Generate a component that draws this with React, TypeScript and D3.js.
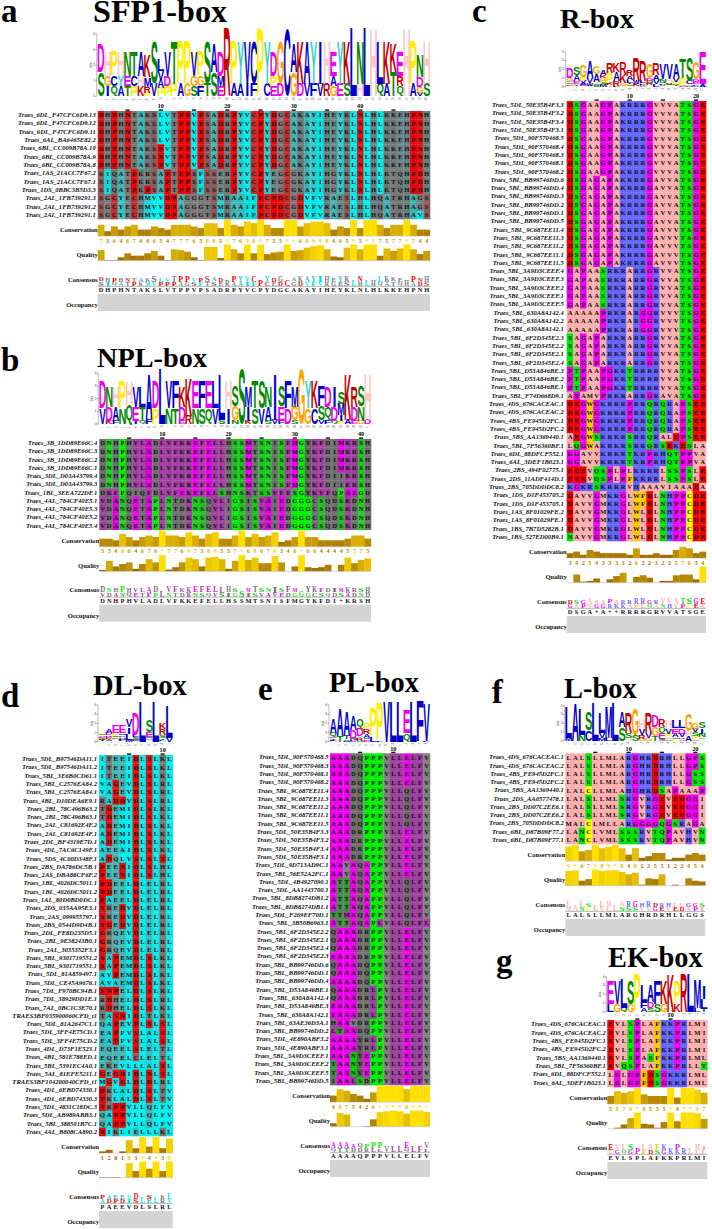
import React from "react";
import * as d3 from "d3";

// ---------- panel a data ----------
const aNames = ["Traes_6DL_F47CFC6D9.13","Traes_6DL_F47CFC6D9.12","Traes_6DL_F47CFC6D9.11","Traes_6AL_BA6465E82.2","Traes_6BL_CC009B78A.10","Traes_6BL_CC009B78A.9","Traes_6BL_CC009B78A.8","Traes_1AS_21ACC7F67.2","Traes_1AS_21ACC7F67.1","Traes_1DS_0BBC3B5D3.3","Traes_2AL_1FB739291.3","Traes_2AL_1FB739291.2","Traes_2AL_1FB739291.1"];
const aSeqs = ["DHPHNTAKSLVTPPVPSADRPYVCPYDGCAKAYIHEYKLNLHLKKEHPNH","DHPHNTAKSLVTPPVPSADRPYVCPYDGCAKAYIHEYKLNLHLKKEHPNH","DHPHNTAKSLVTPPVPSADRPYVCPYDGCAKAYIHEYKLNLHLKKEHPNH","DHPHNTAKSLVTPPVPSADRPYVCPYDGCAKAYIHEYKLNLHLKKEHPNH","DHPHNTAKSPVTPPVPSADRPYVCPYDGCAKAYIHEYKLNLHLKKEHPNH","DHPHNTAKSPVTPPVPSADRPYVCPYDGCAKAYIHEYKLNLHLKKEHPNH","DHPHNTAKSPVTPPVPSADRPYVCPYDGCAKAYIHEYKLNLHLKKEHPNH","SIQATPKRSAPTPPSFSSERPYVCPYEGCGKAYIHGYKLNLHLKTQHPDH","SIQATPKRSAPTPPSFSSERPYVCPYEGCGKAYIHGYKLNLHLKTQHPDH","SIQATPKPSAPTPPSFSSERPYVCPYEGCGKAYIHGYKLNLHLKTQHPDH","SGCYECHMVVDPAGGGTSMRAAIFPCPDCGDVFVRAESLHLHQATRHAGS","SGCYECHMVVDPAGGGTSMRAAIFPCPDCGDVFVRAESLHLHQATRHAGS","SGCYECHMVVDPAGGGTSMRAAIFPCPDCGDVFVRAESLHLHQATRHAVS"];
const aCons = "7364674465477765885*7698*755*+68998465*5**7577*744";
const aQual = [6.5,0.3,0.3,2,4.5,3,3,4.5,6,3,0.3,7,6.5,5.5,2,0.3,8.5,8.5,1.5,10,7,4.5,10,4.5,10,4,5,5.5,10,6,6.5,8,9,9.5,7,2.5,2,8,10,7,10,10,3,7.5,6,7.5,10,7,4,6];
const aText = "DHPHNTAKSLVTPPVPSADRPYVCPYDGCAKAYIHEYKLNLHLKKEHPNH";

// ---------- panel b data ----------
const bNames = ["Traes_3B_1DD89E66C.4","Traes_3B_1DD89E66C.3","Traes_3B_1DD89E66C.2","Traes_3B_1DD89E66C.1","Traes_3DL_D03A43799.4","Traes_3DL_D03A43799.3","Traes_1BL_3EEA722DF.1","Traes_4AL_784CF40E5.1","Traes_4AL_784CF40E5.3","Traes_4AL_784CF40E5.2","Traes_4AL_784CF40E5.4"];
const bSeqs = ["DNHPHVLADLVFKKEFELLHSSMTSNISFMGYKFDIMKRSH","DNHPHVLADLVFKKEFELLHSSMTSNISFMGYKFDIMKRSH","DNHPHVLADLVFKKEFELLHSSMTSNISFMGYKFDIMKRSH","DNHPHVLADLVFKKEFELLHSSMTSNISFMGYKFDIMKRSH","DNHPHVLADLVFKREFELLHSSMTSNISFMGYKFDIIKRSH","DNHPHVLADLVFKREFELLHSSMTSNISFMGYKFDIIKRSH","DKFPQIQFDLVFEKEFELSHNSKTSSVFFSGYKVFQPAEGD","VDANQETAPLNTDKNSQVLIGSISVAIEDGGGCSQDSKDNH","VDANQETAPLNTDKNSQVLIGSISVAIEDGGGCSQDSKDNH","VDANQETAPLNTDKNSQVLIGSISVAIEDGGGCSQDSKDNH","VDANQETAPLNTDKNSQVLIGSISVAIEDGGGCSQDSKDNH"];
const bCons = "554864676*77697589557*68679346*6644445775";
const bQual = [0.8,6.5,3,4.5,5.5,1.5,4.5,7.5,5.5,10,1,2.5,5.5,8.5,7.5,3,8.5,9,7.5,1.5,6.5,10,7,8.5,5,5,9.5,5.5,0,3,10,2.5,2,2.5,4,0,4,8.5,5,7,8];
const bText = "DNHPHVLADLVFKKEFELLHSSMTSNISFMGYKFDI+KRSH";

// ---------- panel c data ----------
const cNames = ["Traes_5DL_50E35B4F3.3","Traes_5DL_50E35B4F3.2","Traes_5DL_50E35B4F3.4","Traes_5DL_50E35B4F3.1","Traes_5DL_90F570468.5","Traes_5DL_90F570468.4","Traes_5DL_90F570468.3","Traes_5DL_90F570468.1","Traes_5DL_90F570468.2","Traes_5BL_BB99746DD.6","Traes_5BL_BB99746DD.4","Traes_5BL_BB99746DD.3","Traes_5BL_BB99746DD.2","Traes_5BL_BB99746DD.1","Traes_5BL_BB99746DD.5","Traes_5BL_9C687EE11.4","Traes_5BL_9C687EE11.3","Traes_5BL_9C687EE11.2","Traes_5BL_9C687EE11.1","Traes_5BL_9C687EE11.5","Traes_5BL_3A9D3CEEF.4","Traes_5BL_3A9D3CEEF.3","Traes_5BL_3A9D3CEEF.2","Traes_5BL_3A9D3CEEF.1","Traes_5BL_3A9D3CEEF.5","Traes_5BL_630A8A142.4","Traes_5BL_630A8A142.2","Traes_5BL_630A8A142.1","Traes_5BL_6F2D345E2.3","Traes_5BL_6F2D345E2.2","Traes_5BL_6F2D345E2.1","Traes_5BL_6F2D345E2.4","Traes_5BL_D53A846BE.3","Traes_5BL_D53A846BE.2","Traes_5BL_D53A846BE.1","Traes_5BL_F74D668D9.1","Traes_4DS_676CACEAC.1","Traes_4DS_676CACEAC.2","Traes_4BS_FE945D2FC.1","Traes_4BS_FE945D2FC.2","Traes_5BS_AA1369440.1","Traes_5BL_7F56360BF.1","Traes_6DL_88DFCF552.1","Traes_6AL_3DEF1B023.1","Traes_2BS_494F02775.1","Traes_2DS_11ADF414D.1","Traes_2BS_705DDDDC8.2","Traes_1DS_D1F453705.2","Traes_1DS_D1F453705.1","Traes_1AS_8F01029FE.2","Traes_1AS_8F01029FE.1","Traes_1BS_7B7D5282B.1","Traes_1BS_527ED00B9.1"];
const cSeqs = ["DSGAAGPAKRRRGVVVATSGE","DSGAAGPAKRRRGVVVATSGE","DSGAAGPAKRRRGVVVATSGE","DSGAAGPAKRRRGVVVATSGE","DSGAAGPAKRRRGVVVATSGE","DSGAAGPAKRRRGVVVATSGE","DSGAAGPAKRRRGVVVATSGE","DSGAAGPAKRRRGVVVATSGE","DSGAAGPAKRRRGVVVATSGE","DSGAGAPAKRRRGAVVATSGE","DSGAGAPAKRRRGAVVATSGE","DSGAGAPAKRRRGAVVATSGE","DSGAGAPAKRRRGAVVATSGE","DSGAGAPAKRRRGAVVATSGE","DSGAGAPAKRRRGAVVATSGE","DSGAGAPAKRRRGAVVVTSGE","DSGAGAPAKRRRGAVVVTSGE","DSGAGAPAKRRRGAVVVTSGE","DSGAGAPAKRRRGAVVVTSGE","DSGAGAPAKRRRGAVVVTSGE","GAPAASRKRARRGRVVATSGE","GAPAASRKRARRGRVVATSGE","GAPAASRKRARRGRVVATSGE","GAPAASRKRARRGRVVATSGE","GAPAASRKRARRGRVVATSGE","AAAAAPRKRARGGRVVVTSGE","AAAAAPRKRARGGRVVVTSGE","AAAAAPRKRARGGRVVVTSGE","SAGAPARKRARRGRVVATSGE","SAGAPARKRARRGRVVATSGE","SAGAPARKRARRGRVVATSGE","SAGAPARKRARRGRVVATSGE","PTPAAPGKRTRRRRVVATSGE","PTPAAPGKRTRRRRVVATSGE","PTPAAPGKRTRRRRVVATSGE","APAMVPRKRARRGRAVATSGE","DEGWGKRRRPRRQRQRAPSEE","DEGWGKRRRPRRQRQRAPSEE","DEGWGKRRRPRRQRQRAPSEE","DEGWGKRRRPRRQRQRAPSEE","AEGWSKRKRSRRQRALDPSEE","LQGWAKRKRSRRQRSEKENLA","GGAVVKRKRTKRPRHQTPPVA","GGAVVKRKRTKRPRHQTPPVA","EEEVQSPLPLKKRRLSSPSLE","EEEVQSPLPFKKRRLSSPSLE","KGKRSKRRRVHAAAVIAAAEA","DAVVGMKRGLWFDLNHPPCDE","DAVVGMKRGLWFDLNHPPCDE","DAVVGMKRGLWLDLNHPPCDE","DAVVGMKRGLWLDLNHPPCDE","DAVVGMKRGLWLDLNHPPCDE","NAVVGMKRGLWLDLNHPPCDE"];
const cCons = "342543333262232257634";
const cQual = [0,5,0.5,1,2.5,0,2,4,6,0,3.5,4.5,3,0,1,1,4.5,5,5,2,10];
const cText = "DSGA+A++RRRRGRVVATSGE";

// ---------- panel d data ----------
const dNames = ["Traes_5DL_B97546DA11.1","Traes_5DL_B97546DA11.2","Traes_5BL_3E6B0CD61.1","Traes_5BL_C2576EA84.2","Traes_5BL_C2576EA84.1","Traes_4BL_D10DEA6E9.1","Traes_2BL_78C496B63.2","Traes_2BL_78C496B63.1","Traes_2AL_C81692E4F.2","Traes_2AL_C81692E4F.1","Traes_2DL_BF4319E7D.1","Traes_4DL_7AC6C149F.1","Traes_5DS_4C00D348F.1","Traes_2BS_DA786DC5B.1","Traes_2AS_DBA88CF6F.2","Traes_1BL_4026DC5011.1","Traes_1BL_4026DC5011.2","Traes_1AL_80D0BD0DC.1","Traes_2DS_035AA95E3.1","Traes_2AS_099955797.1","Traes_2BS_0544D9D4B.1","Traes_2DL_FE8D235D5.1","Traes_2BL_9E38243B0.1","Traes_2AL_3035352F3.1","Traes_5BL_9301719551.2","Traes_5BL_9301719551.1","Traes_5DL_81A859497.1","Traes_5DL_CE45A9676.1","Traes_7DL_F970BC94B.1","Traes_7DL_38929DD1E.1","Traes_7AL_0BC1C3E70.1","TRAES3BF035900060CFD_t1","Traes_5DL_81A2647C1.1","Traes_5DL_3FF4E75CD.1","Traes_5DL_3FF4E75CD.2","Traes_4DL_D73F1E523.1","Traes_4BL_581E788ED.1","Traes_5BL_5391EC4A0.1","Traes_5AL_81EFE5211.1","TRAES3BF104200040CFD_t1","Traes_4DL_6EBD74330.1","Traes_4DL_6EBD74330.3","Traes_5DL_4831C18DC.3","Traes_5DL_AB989ABB3.1","Traes_5BL_388501B7C.1","Traes_4AL_B808CA890.2"];
const dSeqs = ["ITEEIDLSLKL","ITEEIDLSLKL","ITEEIDLSLKL","VAGEVDLSLRL","VAGEVDLSLRL","RADDVDLSLRL","TDEMIDLSLKL","TDEMIDLSLKL","ADEMIDLSLKL","ADEMIDLSLKL","ADEMIDLSLKL","AEEAIDLSLKL","ADQLVSLSLSL","PEENIDLSLHL","PEENIDLSLHL","PDEELDLELRL","PDEELDLELRL","PAEELDLELRL","SREDVDLELRL","SREDVDLELRL","SGEDVDLELRL","GRQEVDLELRL","GRQEVDLELRL","GRQEVDLELRL","SAPEMDLSLKL","SAPEMDLSLKL","AVPEMDLSLKL","AVAEMDLSLKL","SNPELDLSLRL","RDHELDLSLRL","RDHELDLSLKL","TASNIDLTLKL","QAPEVPLSLSL","EAPFVSLALSL","EAPFVSLALSL","EQEELSLELTL","EQEELCLELTL","EKEVLLLALSL","GEGDIDLNLSL","MGVGLDLDLRL","PKLALDLSLTV","PKLALDLSLTV","SRPPVLLQLFV","QAPPVLLQLFV","QAPPVLLQLFV","PIKLIELLLKL"];
const dCons = "12018 3*4*39".replace(" ", "");
const dQual = [0.3,0.3,0.3,0,9,4,10,5.5,10,4,10];
const dText = "PAEEVDLSLRL";

// ---------- panel e data ----------
const eNames = ["Traes_5DL_90F570468.5","Traes_5DL_90F570468.3","Traes_5DL_90F570468.1","Traes_5DL_90F570468.2","Traes_5BL_9C687EE11.4","Traes_5BL_9C687EE11.3","Traes_5BL_9C687EE11.2","Traes_5BL_9C687EE11.1","Traes_5BL_9C687EE11.5","Traes_5DL_50E35B4F3.3","Traes_5DL_50E35B4F3.2","Traes_5DL_50E35B4F3.4","Traes_5DL_50E35B4F3.1","Traes_5DL_9D713AD9C.1","Traes_5BL_56E52A2FC.1","Traes_5DL_4B4927090.1","Traes_5DL_AA1443700.1","Traes_5BL_8DB8274DB1.2","Traes_5BL_8DB8274DB1.1","Traes_5DL_F269EF70D.1","Traes_5BL_3B50B6963.1","Traes_5BL_6F2D345E2.2","Traes_5BL_6F2D345E2.1","Traes_5BL_6F2D345E2.4","Traes_5BL_6F2D345E2.3","Traes_5BL_BB99746DD.6","Traes_5BL_BB99746DD.1","Traes_5BL_BB99746DD.4","Traes_5BL_D53A846BE.1","Traes_5BL_630A8A142.4","Traes_5BL_D53A846BE.3","Traes_5BL_630A8A142.1","Traes_5BL_63AE36D3A.1","Traes_5BL_BB99746DD.2","Traes_5DL_4E890ABF3.2","Traes_5DL_4E890ABF3.1","Traes_5BL_3A9D3CEEF.1","Traes_5BL_3A9D3CEEF.2","Traes_5BL_3A9D3CEEF.5","Traes_5BL_BB99746DD.5"];
const eSeqs = ["AAADQPPPVLLELFV","AAADQPPPVLLELFV","AAADQPPPVLLELFV","AAADQPPPVLLELFV","AAADQPPPVLLQLFV","AAADQPPPVLLQLFV","AAADQPPPVLLQLFV","AAADQPPPVLLQLFV","AAADQPPPVLLQLFV","AAADRPPPVLLELFV","AAADRPPPVLLELFV","AAADRPPPVLLELFV","AAADRPPPVLLELFV","AAVAQAPPVLLELFV","AAVAQAPPVLLELFV","ATTAQAPPVLLQLFV","ATTAQAPPVLLQLFV","ATTAQAPPVLLQLFV","ATTAQAPPVLLQLFV","TTMAQAPPVLLQLFV","ATTAQAPLVLLQLFL","QAAADRPPVLLELFV","QAAADRPPVLLELFV","QAAADRPPVLLELFV","EAAADRPPVLLELFV","QAAADQPPVLLELFV","QAAADQPPVLLELFV","AAAADQPPVLLELFV","QAAADRLPVLLELFV","QAAADRLPVLLELFV","EAAADRLPVLLELFV","EAAADRLPVLLELFV","HAAVDRPPVLLELFV","LTAADQPPVLLELFV","AAAAYRLPVLLELFV","AAAAYRLPVLLELFV","AAANYEPPVLLELFV","TAANYEPPVLLELFV","TAANYEPPVLLELFV","IAALSDPPVLLELFV"];
const eCons = "4875426+***8**+";
const eQual = [2,8.5,7.5,0,0,0.3,4.5,9,9.5,10,9.5,8,10,10,9];
const eText = "AAAAQPPPVLLELFV";

// ---------- panel f data ----------
const fNames = ["Traes_4DS_676CACEAC.1","Traes_4DS_676CACEAC.2","Traes_4BS_FE945D2FC.1","Traes_4BS_FE945D2FC.2","Traes_5BS_AA1369440.1","Traes_2DS_AA0577478.1","Traes_2BS_DD07C2EE6.1","Traes_2BS_DD07C2EE6.2","Traes_2BS_705DDDDC8.2","Traes_6BL_D87B09F77.2","Traes_6BL_D87B09F77.1"];
const fSeqs = ["LALSLLMLARGHRDRHLLGPS","LALSLLMLARGHRDRHLLGPS","LALSLLMLARGHRDRHLLGSS","LALSLLMLARGHRDRHLLGSS","LALCLLMLAHGHRDSAPAAAP","LALSLLMLSRGVRGEVEDGGI","LALSLLMLSRGVRGEVEDGGI","LALSLLMLSRGVRGEVEDGGI","MALCLMLLARGGGGQGSRAGA","LANCLVMLSSSRVTQPAVHVN","LANCLVMLSSSRVTQPAVHVN"];
const fCons = "9*67*89*848235512 2454".replace(" ", "");
const fQual = [9,9.5,3,4,10,9,9.5,9.5,8.5,7,8,0.5,4.5,4,7,0,0.5,0,4.5,3,2.5];
const fText = "LALSLLMLARGHRDRHLLGGS";

// ---------- panel g data ----------
const gNames = ["Traes_4DS_676CACEAC.1","Traes_4DS_676CACEAC.2","Traes_4BS_FE945D2FC.1","Traes_4BS_FE945D2FC.2","Traes_5BS_AA1369440.1","Traes_5BL_7F56360BF.1","Traes_6DL_88DFCF552.1","Traes_6AL_3DEF1B023.1"];
const gSeqs = ["EVLSPLAFKKPRLMI","EVLSPLAFKKPRLMI","EVLSPLAFKKPRLMI","EVLSPLAFKKPRLMI","EVLSPASFKKPRLML","EVQSPLAFKKPRLLT","LGLGPFDSGKKRLML","LGLGPFDSGKKRLML"];
const gCons = "5878*6555*4**97";
const gQual = [0,0.5,2.5,6.5,10,3,2.5,0.5,4,10,4.5,10,10,9.5,6];
const gText = "EVLSPLAFKKPRLMI";

// ---------- colour schemes ----------
const logoColors: Record<string, string> = { A:"#0000cc",C:"#0000cc",D:"#ee00ee",E:"#ee00ee",F:"#0000cc",G:"#ffa500",H:"#ffc8c8",I:"#0000cc",K:"#c80000",L:"#0000cc",M:"#0000cc",N:"#008a00",P:"#ffee00",Q:"#008a00",R:"#c80000",S:"#008a00",T:"#008a00",V:"#0000cc",W:"#0000cc",Y:"#30d8c8" };
const zappo: Record<string, string> = { D:"#f00000",E:"#f00000",S:"#00e800",T:"#00e800",N:"#00e800",Q:"#00e800",G:"#f000f0",P:"#f000f0",A:"#ffafaf",V:"#ffafaf",L:"#ffafaf",I:"#ffafaf",M:"#ffafaf",K:"#6464ff",R:"#6464ff",H:"#6464ff",F:"#ffc800",W:"#ffc800",Y:"#ffc800",C:"#ffff00" };
const cyanRed: Record<string, string> = { P:"#f00000",D:"#e01010",N:"#d81818",S:"#8c5c5c",C:"#c03030",G:"#7a7a7a",L:"#00eeee",V:"#00eeee",I:"#00e0e0",F:"#00e0e0",M:"#20d0d0",Y:"#30c8c8",A:"#40b4b4",K:"#6f7878",R:"#707878",H:"#668080",T:"#787878",Q:"#707878",E:"#6a8888" };
const cyanRedD: Record<string, string> = { P:"#f00000",D:"#e01010",N:"#e01010",S:"#e01010",G:"#e81010",C:"#a05858",L:"#00eeee",V:"#00eeee",I:"#00eeee",F:"#00eeee",M:"#00e8e8",Y:"#00e0e0",A:"#10d8d8",K:"#787878",R:"#787878",H:"#787878",T:"#787878",Q:"#50b0b0",E:"#40b8b8" };
const greenPurple: Record<string, string> = { D:"#707070",N:"#20d020",H:"#707070",P:"#00f000",V:"#a040a0",L:"#a840a8",A:"#e000e0",F:"#a840a8",K:"#a040a0",R:"#a040a0",E:"#f000f0",M:"#ee00ee",G:"#00f000",Y:"#606860",S:"#20c020",T:"#707070",I:"#707070",Q:"#707070",C:"#707070",W:"#707070" };
const greenPurpleE: Record<string, string> = { A:"#ee00ee",D:"#707070",Q:"#6a6a6a",R:"#707070",P:"#00ee00",V:"#808080",L:"#a040a0",E:"#f000f0",F:"#a040a0",T:"#409040",M:"#a040a0",N:"#00d000",Y:"#606060",S:"#00d000",H:"#707070",I:"#707070" };

// ---------- layout ----------
const panels = [
  { letter:"a", lx:1, ly:22, title:"SFP1-box", tx:93, ty:22, tfs:32.2, names:aNames, seqs:aSeqs, cons:aCons, qual:aQual, text:aText, scheme:cyanRed, left:97.7, right:430, top:111, bottom:219, base:96.3, bit4:34, gap:2 },
  { letter:"b", lx:1, ly:371, title:"NPL-box", tx:97, ty:367, tfs:28.3, names:bNames, seqs:bSeqs, cons:bCons, qual:bQual, text:bText, scheme:greenPurple, left:99.3, right:371, top:439, bottom:529.7, base:424, bit4:373.3, gap:2 },
  { letter:"c", lx:472, ly:21.5, title:"R-box", tx:560, ty:28.3, tfs:28.3, names:cNames, seqs:cSeqs, cons:cCons, qual:cQual, text:cText, scheme:zappo, left:566.7, right:706, top:101, bottom:541, base:86.7, bit4:51.7, gap:3 },
  { letter:"d", lx:1, ly:706.7, title:"DL-box", tx:93, ty:695, tfs:28.6, names:dNames, seqs:dSeqs, cons:dCons, qual:dQual, text:dText, scheme:cyanRedD, left:99, right:172.7, top:755, bottom:1136, base:741.7, bit4:705, gap:2 },
  { letter:"e", lx:258, ly:700, title:"PL-box", tx:329, ty:691.7, tfs:28.4, names:eNames, seqs:eSeqs, cons:eCons, qual:eQual, text:eText, scheme:greenPurpleE, left:330, right:430, top:753.3, bottom:1085, base:741.7, bit4:705, gap:1.5 },
  { letter:"f", lx:491.7, ly:702.7, title:"L-box", tx:564, ty:698, tfs:28.4, names:fNames, seqs:fSeqs, cons:fCons, qual:fQual, text:fText, scheme:zappo, left:565.3, right:705.3, top:753.3, bottom:844, base:740.7, bit4:705.7, gap:1.5 },
  { letter:"g", lx:496, ly:971.7, title:"EK-box", tx:608, ty:966.7, tfs:28.4, names:gNames, seqs:gSeqs, cons:gCons, qual:gQual, text:gText, scheme:zappo, left:607.3, right:707.3, top:1020, bottom:1087, base:1011.7, bit4:976.7, gap:1.5 },
];

const SERIF = '"Liberation Serif", serif';
const SANS = '"Liberation Sans", sans-serif';
const barColor = d3.scaleLinear<string>().domain([0, 5, 7.5, 10]).range(["#8f5a00", "#b88a00", "#e0b800", "#ffe000"]).clamp(true);
const digitValue = (c: string) => (c === "*" || c === "+" ? 10 : +c);

// Ink metrics of a letter, so a glyph can be stretched to exactly fill its box.
const metricCache: Record<string, { l: number; r: number; a: number; d: number }> = {};
function metrics(ch: string, font: string) {
  const key = font + ch;
  if (metricCache[key]) return metricCache[key];
  const ctx = document.createElement("canvas").getContext("2d")!;
  ctx.font = `bold 100px ${font}`;
  const m = ctx.measureText(ch);
  return (metricCache[key] = { l: m.actualBoundingBoxLeft, r: m.actualBoundingBoxRight, a: m.actualBoundingBoxAscent, d: m.actualBoundingBoxDescent });
}

function Glyph({ ch, x, w, y0, y1, fill, font = SANS, narrowI = true }: { ch: string; x: number; w: number; y0: number; y1: number; fill: string; font?: string; narrowI?: boolean }) {
  const m = metrics(ch, font);
  const wide = ch === "I" && narrowI ? w * 0.35 : w;
  const x0 = x + (w - wide) / 2;
  const sx = wide / (m.r + m.l);
  const sy = (y1 - y0) / (m.a + m.d);
  return (
    <text transform={`translate(${x0 + m.l * sx},${y1 - m.d * sy}) scale(${sx},${sy})`} fontSize={100} fontWeight="bold" fontFamily={font} fill={fill}>
      {ch}
    </text>
  );
}

// Residue frequencies of every alignment column.
function columnCounts(seqs: string[], n: number) {
  return d3.range(n).map((i) => {
    const counts = d3.rollup(seqs, (v) => v.length, (s) => s[i]);
    return Array.from(counts, ([ch, k]) => ({ ch, f: k / seqs.length }));
  });
}

function Panel({ p }: { p: (typeof panels)[number] }) {
  const n = p.seqs[0].length;
  const x = d3.scaleBand<number>().domain(d3.range(n)).range([p.left, p.right]);
  const y = d3.scaleBand<number>().domain(d3.range(p.seqs.length)).range([p.top, p.bottom]);
  const bit = d3.scaleLinear().domain([0, 4]).range([p.base, p.bit4]);
  const w = x.bandwidth();
  const h = y.bandwidth();
  const b = p.bottom;
  const consY = d3.scaleLinear().domain([0, 10]).range([b + 17, b + 1]);
  const qualY = d3.scaleLinear().domain([0, 10]).range([b + 41.5, b + 25.5]);
  const consensusHeight = d3.scaleLinear().domain([0, 1]).range([3.2, 5.8]);
  const cols = columnCounts(p.seqs, n);
  const anno = [["Conservation", 13], ["Quality", 38], ["Consensus", 62.7], ["Occupancy", 88]] as const;

  return (
    <g>
      <text x={p.lx} y={p.ly} fontFamily={SERIF} fontWeight="bold" fontSize={33}>{p.letter}</text>
      <text x={p.tx} y={p.ty} fontFamily={SERIF} fontWeight="bold" fontSize={p.tfs}>{p.title}</text>

      {/* sequence logo */}
      <g>
        <line x1={p.left - 1} x2={p.left - 1} y1={bit(0)} y2={bit(4)} stroke="#555" strokeWidth={0.4} />
        {bit.ticks(4).map((t) => (
          <g key={t}>
            <line x1={p.left - 2.5} x2={p.left - 1} y1={bit(t)} y2={bit(t)} stroke="#444" strokeWidth={0.5} />
            <text x={p.left - 3} y={bit(t) + 1} fontSize={3} textAnchor="end" fontFamily={SANS} fill="#333">{t}</text>
          </g>
        ))}
        <text transform={`translate(${p.left - 6},${bit(2)}) rotate(-90)`} fontSize={3.2} textAnchor="middle" fontFamily={SANS} fill="#333">bits</text>
        {cols.map((col, i) => {
          const entropy = -d3.sum(col, (c) => c.f * Math.log2(c.f));
          const info = Math.log2(20) - entropy;
          let acc = 0;
          return [...col].sort((a1, a2) => a1.f - a2.f).map((c) => {
            const start = acc;
            acc += c.f * info;
            if (bit(start) - bit(acc) < 0.2) return null;
            return <Glyph key={i + c.ch} ch={c.ch} x={x(i)!} w={w} y0={bit(acc)} y1={bit(start)} fill={logoColors[c.ch]} />;
          });
        })}
        {d3.range(n).map((i) => (
          <text key={i} transform={`translate(${x(i)! + w / 2 + 0.8},${p.base + 4}) rotate(-90)`} fontSize={2.6} fontFamily={SANS} fill="#555">{i + 1}</text>
        ))}
      </g>

      {/* ruler */}
      {d3.range(n).filter((i) => (i + 1) % 5 === 0 && i + 1 < n).map((i) => (
        <g key={i}>
          <rect x={x(i)! + w / 2 - 2.1} y={p.top - 1.6} width={4.2} height={1.4} fill="#111" />
          {(i + 1) % 10 === 0 && (
            <text x={x(i)! + w / 2} y={p.top - 2.6} textAnchor="middle" fontFamily={SERIF} fontWeight="bold" fontSize={6.2}>{i + 1}</text>
          )}
        </g>
      ))}

      {/* alignment */}
      {p.seqs.map((s, r) => (
        <g key={r}>
          <text x={p.left - p.gap} y={y(r)! + h / 2 + 2} textAnchor="end" fontFamily={SERIF} fontWeight="bold" fontStyle="italic" fontSize={6.6} fill="#111">{p.names[r]}</text>
          {s.split("").map((ch, i) => (
            <rect key={i} x={x(i)!} y={y(r)!} width={w + 0.3} height={h + 0.3} fill={p.scheme[ch] ?? "#777"} />
          ))}
          {s.split("").map((ch, i) => (
            <text key={i} x={x(i)! + w / 2} y={y(r)! + h / 2 + 2.2} textAnchor="middle" fontFamily={SERIF} fontWeight="bold" fontSize={6.6} fill="#111">{ch}</text>
          ))}
        </g>
      ))}

      {/* annotation rows */}
      {anno.map(([label, dy]) => (
        <text key={label} x={p.left} y={b + dy} textAnchor="end" fontFamily={SERIF} fontWeight="bold" fontSize={6.6} fill="#111">{label}</text>
      ))}
      {p.cons.split("").map((c, i) => {
        const v = digitValue(c);
        return (
          <g key={i}>
            <rect x={x(i)!} y={consY(v)} width={w + 0.2} height={consY(0) - consY(v)} fill={barColor(v)} />
            <text x={x(i)! + w / 2} y={b + 23.6} textAnchor="middle" fontFamily={SERIF} fontWeight="bold" fontSize={6.2} fill={barColor(v)}>{c}</text>
          </g>
        );
      })}
      <line x1={p.left} x2={p.right} y1={consY(0) + 0.2} y2={consY(0) + 0.2} stroke="#bbb" strokeWidth={0.5} />
      {p.qual.map((v, i) => (
        <rect key={i} x={x(i)!} y={qualY(v)} width={w + 0.2} height={qualY(0) - qualY(v)} fill={barColor(v)} />
      ))}
      <line x1={p.left} x2={p.right} y1={qualY(0) + 0.2} y2={qualY(0) + 0.2} stroke="#aaa" strokeWidth={0.5} />

      {/* consensus */}
      {cols.map((col, i) => {
        const top2 = [...col].sort((a1, a2) => a2.f - a1.f).slice(0, 2);
        let yb = b + 67;
        return [...top2].reverse().map((c) => {
          const y1 = yb;
          const y0 = y1 - consensusHeight(c.f);
          yb = y0 - 0.2;
          return <Glyph key={i + c.ch} ch={c.ch} x={x(i)! + 1} w={w - 2} y0={y0} y1={y1} fill={p.scheme[c.ch] ?? "#777"} font={SERIF} narrowI={false} />;
        });
      })}
      <line x1={p.left} x2={p.right} y1={b + 67.4} y2={b + 67.4} stroke="#888" strokeWidth={0.6} />
      {p.text.split("").map((ch, i) => (
        <text key={i} x={x(i)! + w / 2} y={b + 73.3} textAnchor="middle" fontFamily={SERIF} fontWeight="bold" fontSize={6.4} fill="#111">{ch}</text>
      ))}
      <rect x={p.left} y={b + 75} width={p.right - p.left} height={17} fill="#d4d4d4" />
    </g>
  );
}

export default function App() {
  return (
    <svg width={712} height={1229} viewBox="0 0 712 1229" style={{ position: "absolute", left: 0, top: 0, background: "#fff" }}>
      {panels.map((p) => <Panel key={p.letter} p={p} />)}
    </svg>
  );
}
